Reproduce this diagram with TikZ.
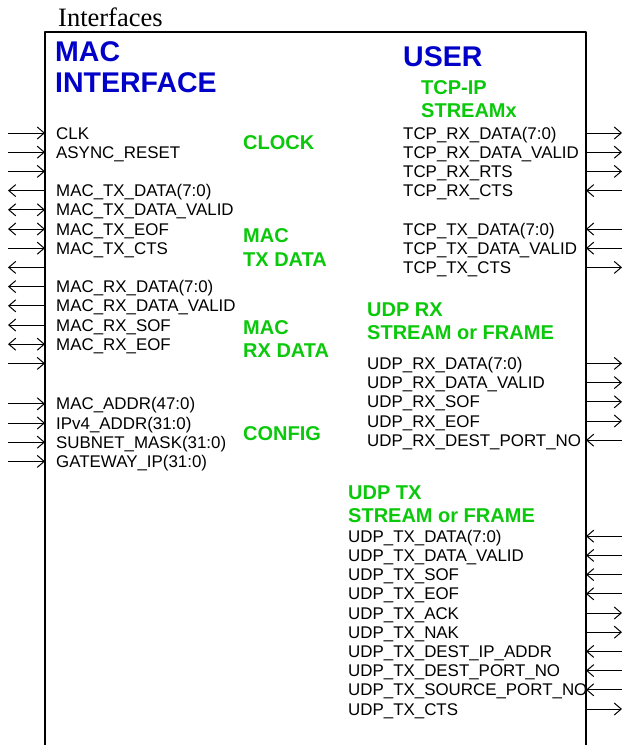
\documentclass[tikz,border=0pt]{standalone}
\usepackage{fontspec}
\setmainfont{Liberation Serif}
\setsansfont{Liberation Sans}
\usetikzlibrary{arrows.meta}
\definecolor{ifblue}{RGB}{0,0,200}
\definecolor{grpgreen}{RGB}{10,200,10}
\begin{document}
\begin{tikzpicture}[x=1pt,y=-1pt,line join=round,>={Straight Barb[length=7pt,width=12pt]},
 sig/.style={font=\sffamily\fontsize{16.9}{18}\selectfont,anchor=base west,inner sep=0pt},
 grp/.style={font=\sffamily\bfseries\fontsize{20}{23.5}\selectfont,text=grpgreen,anchor=west,inner sep=0pt,align=left},
 blk/.style={font=\sffamily\bfseries\fontsize{28.5}{31}\selectfont,text=ifblue,anchor=west,inner sep=0pt,align=left}]
 \def\xl{45}\def\xr{586}\def\yo{133}\def\dy{19.2}
 \useasboundingbox (0,0) rectangle (623,745);
 % block outline, open at the bottom
 \coordinate (bl) at (\xl,745); \coordinate (tl) at (\xl,32);
 \coordinate (tr) at (\xr,32); \coordinate (br) at (\xr,745);
 \draw[line width=1.2pt] (bl) -- (tl) -- (tr) -- (br);
 \node[anchor=base west,inner sep=0pt,font=\rmfamily\fontsize{26.5}{28}\selectfont] (title) at (58,26) {Interfaces};
 % titles and groups
 \node[blk] (mac) at (55,67.5) {MAC\\INTERFACE};
 \node[blk] (user) at (403,57) {USER};
 \node[grp] (tcp) at (421,99) {TCP-IP\\STREAMx};
 \node[grp] (clock) at (243,143) {CLOCK};
 \node[grp] (mactx) at (243,247.5) {MAC\\TX DATA};
 \node[grp] (macrx) at (243,339) {MAC\\RX DATA};
 \node[grp] (config) at (243,434) {CONFIG};
 \node[grp] (udprx) at (367,321) {UDP RX\\STREAM or FRAME};
 \node[grp] (udptx) at (348,504) {UDP TX\\STREAM or FRAME};
 % left side signals
 \foreach \i/\t in {0/CLK,1/ASYNC\_RESET,3/MAC\_TX\_DATA(7:0),4/MAC\_TX\_DATA\_VALID,5/MAC\_TX\_EOF,6/MAC\_TX\_CTS,
  8/MAC\_RX\_DATA(7:0),9/MAC\_RX\_DATA\_VALID,10/MAC\_RX\_SOF,11/MAC\_RX\_EOF,
  14/MAC\_ADDR(47:0),15/IPv4\_ADDR(31:0),16/SUBNET\_MASK(31:0),17/GATEWAY\_IP(31:0)}
  \node[sig] (ls\i) at (56,{\yo+\dy*\i+6+(\i>13)*2}) {\t};
 \foreach \i/\a in {0/->,1/->,2/->,3/<-,4/<->,5/<->,6/->,7/<-,8/<-,9/<-,10/<-,11/<->,12/->,14/->,15/->,16/->,17/->}{
  \coordinate (lp\i) at (\xl,{\yo+\dy*\i+(\i>13)*2});
  \coordinate (lo\i) at (8,{\yo+\dy*\i+(\i>13)*2});
  \draw[line width=1pt,\a] (lo\i) -- (lp\i);
 }
 % right side signals
 \foreach \i/\t in {0/TCP\_RX\_DATA(7:0),1/TCP\_RX\_DATA\_VALID,2/TCP\_RX\_RTS,3/TCP\_RX\_CTS,
  5/TCP\_TX\_DATA(7:0),6/TCP\_TX\_DATA\_VALID,7/TCP\_TX\_CTS}
  \node[sig] (rs\i) at (403,{\yo+\dy*\i+6}) {\t};
 \foreach \i/\t in {12/UDP\_RX\_DATA(7:0),13/UDP\_RX\_DATA\_VALID,14/UDP\_RX\_SOF,15/UDP\_RX\_EOF,16/UDP\_RX\_DEST\_PORT\_NO}
  \node[sig] (rs\i) at (367,{\yo+\dy*\i+6}) {\t};
 \foreach \i/\t in {21/UDP\_TX\_DATA(7:0),22/UDP\_TX\_DATA\_VALID,23/UDP\_TX\_SOF,24/UDP\_TX\_EOF,25/UDP\_TX\_ACK,
  26/UDP\_TX\_NAK,27/UDP\_TX\_DEST\_IP\_ADDR,28/UDP\_TX\_DEST\_PORT\_NO,29/UDP\_TX\_SOURCE\_PORT\_NO,30/UDP\_TX\_CTS}
  \node[sig] (rs\i) at (348,{\yo+\dy*\i+6}) {\t};
 \foreach \i/\a in {0/->,1/->,2/->,3/<-,5/<-,6/<-,7/->,12/->,13/->,14/->,15/->,16/<-,
  21/<-,22/<-,23/<-,24/<-,25/->,26/->,27/<-,28/<-,29/<-,30/->}{
  \coordinate (rp\i) at (\xr,{\yo+\dy*\i});
  \coordinate (ro\i) at (622,{\yo+\dy*\i});
  \draw[line width=1pt,\a] (rp\i) -- (ro\i);
 }
\end{tikzpicture}
\end{document}
